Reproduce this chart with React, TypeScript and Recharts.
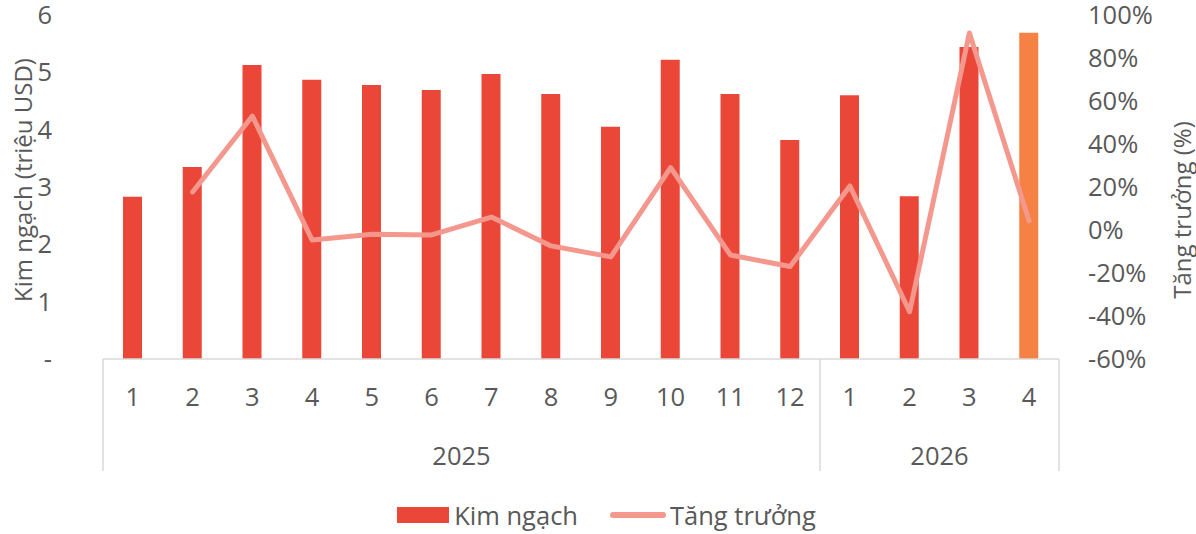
import {
    ComposedChart,
    Bar,
    Line,
    XAxis,
    YAxis,
    Legend,
    Cell,
} from "recharts";

const months = ["1", "2", "3", "4", "5", "6", "7", "8", "9", "10", "11", "12", "1", "2", "3", "4"];
const years = ["2025", "2025", "2025", "2025", "2025", "2025", "2025", "2025", "2025", "2025", "2025", "2025", "2026", "2026", "2026", "2026"];
const kimNgach = [2.83, 3.35, 5.13, 4.87, 4.78, 4.69, 4.97, 4.62, 4.05, 5.22, 4.62, 3.82, 4.6, 2.84, 5.44, 5.69];
const tangTruong = [null, 17.7, 53, -4.7, -2, -2.3, 6, -7.4, -12.5, 29, -11.6, -17, 20.5, -38, 91.6, 4.2];
const leftTicks = [0, 1, 2, 3, 4, 5, 6];
const rightTicks = [-60, -40, -20, 0, 20, 40, 60, 80, 100];

const data = months.map((m, i) => ({
    key: `${years[i]}-${m}-${i}`,
    month: m,
    year: years[i],
    kimNgach: kimNgach[i],
    tangTruong: tangTruong[i],
}));

const W = 1196;
const H = 534;
const LEFT_W = 103;
const RIGHT_W = 137;
const BAND = (W - LEFT_W - RIGHT_W) / data.length;
const FONT = "'Open Sans', sans-serif";
const FS = 25.5;
const TEXT = "#595959";
const AXIS = "#d9d9d9";
const RED = "#eb4738";
const ORANGE = "#f58145";
const SALMON = "#f4988e";

// year groups: [start, end] index per year
const groups: { year: string; start: number; end: number }[] = [];
years.forEach((y, i) => {
    const g = groups[groups.length - 1];
    if (g && g.year === y) g.end = i;
    else groups.push({ year: y, start: i, end: i });
});

function MonthTick(props: any) {
    const { x, y, payload } = props;
    const i = payload.index;
    const parts: any[] = [];
    parts.push(
        <text key="m" x={x} y={y + 38} dy="0.35em" textAnchor="middle" fill={TEXT} fontSize={FS} fontFamily={FONT}>
            {months[i]}
        </text>
    );
    groups.forEach((g) => {
        if (g.start === i) {
            parts.push(<line key={"s" + g.year} x1={x - BAND / 2} x2={x - BAND / 2} y1={y} y2={y + 112} stroke={AXIS} strokeWidth={1.5} />);
        }
        if (g.end === i && i === data.length - 1) {
            parts.push(<line key="e" x1={x + BAND / 2} x2={x + BAND / 2} y1={y} y2={y + 112} stroke={AXIS} strokeWidth={1.5} />);
        }
        const c = (g.start + g.end) / 2;
        if (Math.floor(c) === i) {
            const cx = x + (c - i) * BAND;
            parts.push(
                <text key={"y" + g.year} x={cx} y={y + 97} dy="0.35em" textAnchor="middle" fill={TEXT} fontSize={FS} fontFamily={FONT}>
                    {g.year}
                </text>
            );
        }
    });
    return <g>{parts}</g>;
}

function LegendContent() {
    return (
        <div style={{ display: "flex", justifyContent: "center", alignItems: "center", fontFamily: FONT, fontSize: FS, color: TEXT, height: 60, paddingTop: 22, boxSizing: "border-box", paddingLeft: 17 }}>
            <span style={{ display: "inline-block", width: 52, height: 16, background: RED, marginRight: 5 }} />
            <span>Kim ngạch</span>
            <span style={{ display: "inline-block", width: 56, height: 6, borderRadius: 3, background: SALMON, marginLeft: 32, marginRight: 4 }} />
            <span>Tăng trưởng</span>
        </div>
    );
}

export default function App() {
    return (
        <div style={{ position: "absolute", left: 0, top: 0, width: W, height: H, background: "#fff" }}>
            <ComposedChart width={W} height={H} data={data} margin={{ top: 15, right: 0, left: 0, bottom: 0 }}>
                <XAxis
                    dataKey="key"
                    height={115}
                    interval={0}
                    tickLine={false}
                    tickSize={0}
                    tickMargin={0}
                    axisLine={{ stroke: AXIS, strokeWidth: 1.5 }}
                    tick={<MonthTick />}
                />
                <YAxis
                    yAxisId="left"
                    width={LEFT_W}
                    domain={[0, 6]}
                    ticks={leftTicks}
                    axisLine={false}
                    tickLine={false}
                    tickSize={0}
                    tickMargin={51}
                    tickFormatter={(v: number) => (v === 0 ? "-" : String(v))}
                    tick={{ fill: TEXT, fontSize: FS, fontFamily: FONT }}
                    label={{
                        content: (p: any) => {
                            const vb = p.viewBox;
                            const cx = vb.x + 22;
                            const cy = vb.y + vb.height / 2 - 7;
                            return (
                                <text x={cx} y={cy} transform={`rotate(-90 ${cx} ${cy})`} textAnchor="middle" dominantBaseline="central" fill={TEXT} fontSize={24} fontFamily={FONT}>
                                    Kim ngạch (triệu USD)
                                </text>
                            );
                        },
                    }}
                />
                <YAxis
                    yAxisId="right"
                    orientation="right"
                    width={RIGHT_W}
                    domain={[-60, 100]}
                    ticks={rightTicks}
                    axisLine={false}
                    tickLine={false}
                    tickSize={0}
                    tickMargin={29}
                    tickFormatter={(v: number) => `${v}%`}
                    tick={{ fill: TEXT, fontSize: FS, fontFamily: FONT }}
                    label={{
                        content: (p: any) => {
                            const vb = p.viewBox;
                            const cx = vb.x + 122;
                            const cy = vb.y + vb.height / 2 + 23;
                            return (
                                <text x={cx} y={cy} transform={`rotate(-90 ${cx} ${cy})`} textAnchor="middle" dominantBaseline="central" fill={TEXT} fontSize={24} fontFamily={FONT}>
                                    Tăng trưởng (%)
                                </text>
                            );
                        },
                    }}
                />
                <Legend verticalAlign="bottom" content={<LegendContent />} wrapperStyle={{ height: 60 }} />
                <Bar yAxisId="left" dataKey="kimNgach" name="Kim ngạch" barSize={19} isAnimationActive={false}>
                    {data.map((d, i) => (
                        <Cell key={d.key} fill={i === data.length - 1 ? ORANGE : RED} />
                    ))}
                </Bar>
                <Line
                    yAxisId="right"
                    dataKey="tangTruong"
                    name="Tăng trưởng"
                    stroke={SALMON}
                    strokeWidth={5}
                    strokeLinecap="round"
                    strokeLinejoin="round"
                    dot={false}
                    activeDot={false}
                    isAnimationActive={false}
                />
            </ComposedChart>
        </div>
    );
}
